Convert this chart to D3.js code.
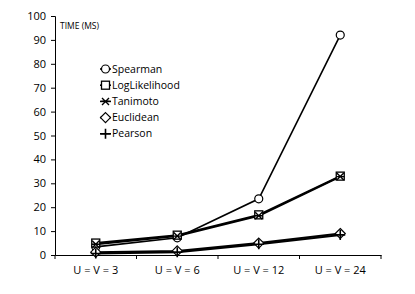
<!DOCTYPE html>
<html>
<head>
<meta charset="utf-8">
<script src="https://cdn.jsdelivr.net/npm/d3@7"></script>
<style>
  body { margin: 0; background: #fff; }
  svg text { font-family: "Open Sans", "Noto Sans", sans-serif; fill: #000; }
</style>
</head>
<body>
<div id="chart"></div>
<script>
/* time per similarity measure, by matrix size */
const categories = ['U = V = 3', 'U = V = 6', 'U = V = 12', 'U = V = 24'];
const seriesNames = ['Spearman', 'LogLikelihood', 'Tanimoto', 'Euclidean', 'Pearson'];
const spearman = [3.4, 7.2, 23.5, 92];
const logLikelihood = [5, 8.3, 16.8, 33];
const tanimoto = [4.5, 7.9, 16.4, 32.8];
const euclidean = [1.2, 1.7, 5, 9];
const pearson = [0.6, 1.2, 4.5, 8.4];
const yTicks = [0, 10, 20, 30, 40, 50, 60, 70, 80, 90, 100];

const W = 415, H = 294;
const m = {left: 55, right: 34, top: 16, bottom: 39};

const svg = d3.select('#chart').append('svg').attr('width', W).attr('height', H);

const x = d3.scaleBand().domain(categories).range([m.left, W - m.right]);
const y = d3.scaleLinear().domain([0, 100]).range([H - m.bottom, m.top]);

/* axes */
const yAxis = svg.append('g').attr('transform', `translate(${m.left},0)`)
  .call(d3.axisLeft(y).tickValues(yTicks).tickSize(4).tickPadding(5));
yAxis.selectAll('text').style('font-size', '11px');

const xAxis = svg.append('g').attr('transform', `translate(0,${H - m.bottom})`)
  .call(d3.axisBottom(x).tickSize(0).tickPadding(11));
xAxis.selectAll('text').style('font-size', '11px');
// band boundary ticks, like the spreadsheet style
xAxis.selectAll('.bt').data(d3.range(categories.length + 1)).join('line')
  .attr('class', 'bt')
  .attr('x1', i => m.left + i * x.step()).attr('x2', i => m.left + i * x.step())
  .attr('y1', 0).attr('y2', 4).attr('stroke', '#000');
[yAxis, xAxis].forEach(a => a.selectAll('path,line').attr('stroke', '#000').attr('stroke-width', 1));

svg.append('text').attr('x', 60).attr('y', 29).style('font-size', '8.5px').text('TIME (MS)');

/* markers */
const sym = {
  Spearman: (g, px, py) => g.append('circle').attr('cx', px).attr('cy', py).attr('r', 4)
    .attr('fill', '#fff').attr('stroke', '#000').attr('stroke-width', 1.2),
  LogLikelihood: (g, px, py) => g.append('rect').attr('x', px - 4).attr('y', py - 4).attr('width', 8).attr('height', 8)
    .attr('fill', '#fff').attr('stroke', '#000').attr('stroke-width', 1.3),
  Tanimoto: (g, px, py) => {
    const s = 3.5;
    g.append('path').attr('d', `M${px - s},${py - s}L${px + s},${py + s}M${px - s},${py + s}L${px + s},${py - s}M${px - s - 0.5},${py}L${px + s + 0.5},${py}`)
      .attr('stroke', '#000').attr('stroke-width', 1.4);
  },
  Euclidean: (g, px, py) => g.append('path').attr('d', `M${px},${py - 5}L${px + 5},${py}L${px},${py + 5}L${px - 5},${py}Z`)
    .attr('fill', '#fff').attr('stroke', '#000').attr('stroke-width', 1.2),
  Pearson: (g, px, py) => g.append('path').attr('d', `M${px - 5},${py}L${px + 5},${py}M${px},${py - 5}L${px},${py + 5}`)
    .attr('stroke', '#000').attr('stroke-width', 1.6)
};

const seriesData = [spearman, logLikelihood, tanimoto, euclidean, pearson];
const line = d3.line().x((d, i) => x(categories[i]) + x.bandwidth() / 2).y(d => y(d));

const plot = svg.append('g');
seriesData.forEach((vals, si) => {
  plot.append('path').datum(vals).attr('d', line)
    .attr('fill', 'none').attr('stroke', '#000').attr('stroke-width', si === 0 ? 1.6 : 2);
});
seriesData.forEach((vals, si) => {
  const g = plot.append('g');
  vals.forEach((v, i) => sym[seriesNames[si]](g, x(categories[i]) + x.bandwidth() / 2, y(v)));
});

/* legend */
const leg = svg.append('g');
seriesNames.forEach((name, i) => {
  const ly = 69 + i * 16.2;
  const g = leg.append('g');
  g.append('line').attr('x1', 100).attr('x2', 111).attr('y1', ly).attr('y2', ly)
    .attr('stroke', '#000').attr('stroke-width', 1.6);
  sym[name](g, 105.5, ly);
  g.append('text').attr('x', 112).attr('y', ly).attr('dy', '0.35em').style('font-size', '10.5px').text(name);
});
</script>
</body>
</html>
